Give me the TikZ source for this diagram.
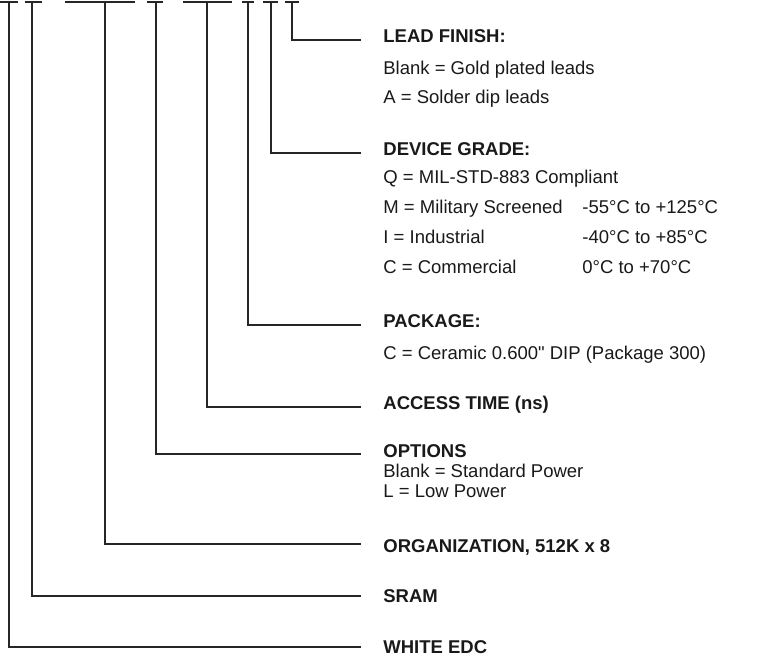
\documentclass[tikz,border=0pt]{standalone}
\usepackage{fontspec}
\setmainfont{Liberation Sans}[Ligatures=TeXOff]
\usetikzlibrary{positioning}

\begin{document}
\begin{tikzpicture}[x=0.5pt,y=-0.5pt,
  lead/.style={draw=black!85,line width=0.65pt},
  head/.style={anchor=base west,inner sep=0pt,font=\fontsize{9.25}{11}\selectfont\bfseries,text=black!90},
  entry/.style={anchor=base west,inner sep=0pt,font=\fontsize{9.25}{11}\selectfont,text=black!90}]
  \useasboundingbox (0,0) rectangle (758,655);
  % code fields along the top and their leads
  \foreach \nm/\xl/\xc/\xr/\yl in {white/0/9/18/647, sram/25/32/42/596, org/65/105/135/544,
      opt/147/156/163/454, acc/183/207/232/407, pkg/242/248/254/325,
      grade/263/271/278/153, finish/285/292/299/40}{
    \coordinate (\nm-top) at (\xc,2);
    \coordinate (\nm-end) at (361,\yl);
    \draw[lead] (\xl,2) -- (\xr,2);
    \draw[lead] (\nm-top) |- (\nm-end);
  }
  % lead finish
  \node[head] (finish) at (383,42) {LEAD FINISH:};
  \node[entry] (finish-a) at (383,74) {Blank = Gold plated leads};
  \node[entry] (finish-b) at (383,103) {A = Solder dip leads};
  % device grade
  \node[head] (grade) at (383,155) {DEVICE GRADE:};
  \node[entry] (grade-q) at (383,183) {Q = MIL-STD-883 Compliant};
  \node[entry] (grade-m) at (383,213) {M = Military Screened};
  \node[entry] (grade-i) at (383,243) {I = Industrial};
  \node[entry] (grade-c) at (383,273) {C = Commercial};
  \node[entry] (temp-m) at (582,213) {-55°C to +125°C};
  \node[entry] (temp-i) at (582,243) {-40°C to +85°C};
  \node[entry] (temp-c) at (582,273) {0°C to +70°C};
  % package
  \node[head] (pkg) at (383,327) {PACKAGE:};
  \node[entry] (pkg-c) at (383,359) {C = Ceramic 0.600" DIP (Package 300)};
  % access time
  \node[head] (acc) at (383,409) {ACCESS TIME (ns)};
  % options
  \node[head] (opt) at (383,457) {OPTIONS};
  \node[entry] (opt-blank) at (383,477) {Blank = Standard Power};
  \node[entry] (opt-l) at (383,497) {L = Low Power};
  % organization, type, maker
  \node[head] (org) at (383,552) {ORGANIZATION, 512K x 8};
  \node[head] (sram) at (383,602) {SRAM};
  \node[head] (white) at (383,653) {WHITE EDC};
\end{tikzpicture}
\end{document}
